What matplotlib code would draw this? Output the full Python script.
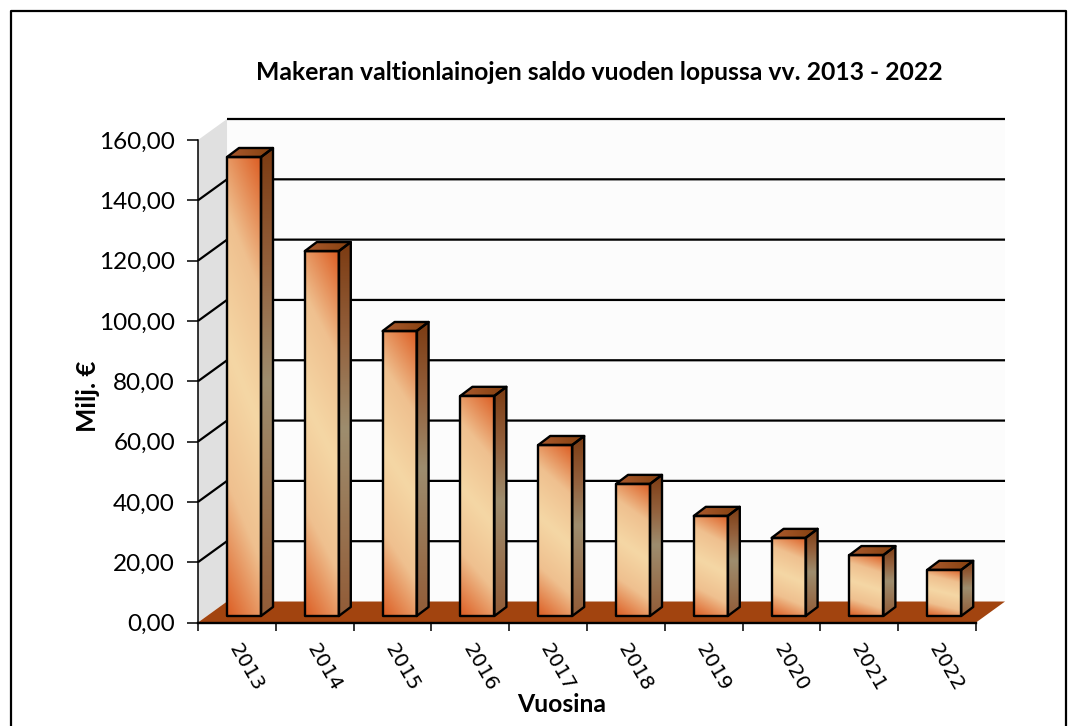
import numpy as np
import matplotlib
matplotlib.use("Agg")
import matplotlib.pyplot as plt
from matplotlib.colors import LinearSegmentedColormap
from matplotlib.lines import Line2D
from matplotlib.patches import Polygon

years = ['2013', '2014', '2015', '2016', '2017', '2018', '2019', '2020', '2021', '2022']
saldo = [152.2, 121.0, 94.5, 73.0, 56.7, 43.8, 33.2, 25.9, 20.2, 15.3]
y_ticks = [0, 20, 40, 60, 80, 100, 120, 140, 160]

plt.rcParams['font.family'] = ['Lato', 'DejaVu Sans']

front_cmap = LinearSegmentedColormap.from_list('front', ['#f5d7a5', '#efc08f', '#dc5e24'])
side_cmap = LinearSegmentedColormap.from_list('side', ['#9e8d6e', '#93603c', '#7c3b12'])
top_cmap = LinearSegmentedColormap.from_list('top', ['#aa5a2e', '#84400f'])

# depth of the 3d box in axis units
depth_x = 0.373
depth_y = 6.96
bar_dx = 0.154
bar_dy = 3.0
bar_w = 0.437
bar_start = 0.373
bar_base = 2.15

fig = plt.figure(figsize=(10.77, 7.26), dpi=100)
ax = fig.add_axes([198 / 1077, (726 - 622.5) / 726, 778 / 1077, 482.5 / 726])


def shade(pts, values, cmap, zorder):
    xs = [p[0] for p in pts]
    ys = [p[1] for p in pts]
    im = ax.imshow(values, cmap=cmap, vmin=0, vmax=1, origin='lower', aspect='auto', zorder=zorder,
                   extent=[min(xs), max(xs), min(ys), max(ys)], interpolation='bilinear')
    poly = Polygon(pts, closed=True, facecolor='none', edgecolor='black', lw=1.7, zorder=zorder + 0.1,
                   clip_on=False, joinstyle='round')
    ax.add_patch(poly)
    im.set_clip_path(poly)
    im.set_clip_on(True)


# walls and floor
ax.add_patch(Polygon([(depth_x, depth_y), (10 + depth_x, depth_y), (10 + depth_x, 160 + depth_y), (depth_x, 160 + depth_y)],
                     facecolor='#fcfcfc', edgecolor='none', clip_on=False, zorder=1))
ax.add_patch(Polygon([(0, 0), (depth_x, depth_y), (depth_x, 160 + depth_y), (0, 160)],
                     facecolor='#e0e0e0', edgecolor='none', clip_on=False, zorder=1))
for t in y_ticks[1:-1]:
    ax.plot([0, depth_x, 10 + depth_x], [t, t + depth_y, t + depth_y], color='black', lw=1.6, clip_on=False,
            zorder=2, solid_capstyle='butt')
ax.plot([depth_x, 10 + depth_x], [160 + depth_y, 160 + depth_y], color='black', lw=1.6, clip_on=False,
        zorder=2, solid_capstyle='butt')
ax.add_patch(Polygon([(0, 0), (depth_x, depth_y), (10 + depth_x, depth_y), (10, 0)],
                     facecolor='#a2440f', edgecolor='none', clip_on=False, zorder=3))

# bars
yy, xx = np.mgrid[-1:1:200j, -1:1:60j]
for k, v in enumerate(saldo):
    x0 = k + bar_start
    x1 = x0 + bar_w
    y0 = bar_base
    y1 = y0 + v
    front = np.clip(np.abs(yy * 0.85 + xx * 0.15), 0, 1)
    shade([(x0, y0), (x1, y0), (x1, y1), (x0, y1)], front, front_cmap, 5)
    side = np.where(yy > 0, yy, -yy * 0.55)
    shade([(x1, y0), (x1 + bar_dx, y0 + bar_dy), (x1 + bar_dx, y1 + bar_dy), (x1, y1)], side, side_cmap, 5)
    top = np.tile(np.linspace(0, 1, 60), (200, 1))
    shade([(x0, y1), (x1, y1), (x1 + bar_dx, y1 + bar_dy), (x0 + bar_dx, y1 + bar_dy)], top, top_cmap, 5)

ax.set_xlim(0, 10)
ax.set_ylim(0, 160)

for s in ['top', 'right']:
    ax.spines[s].set_visible(False)
ax.spines['left'].set_linewidth(1.1)
ax.spines['bottom'].set_linewidth(1.7)
ax.spines['left'].set_zorder(4)
ax.spines['bottom'].set_zorder(4)

ax.set_yticks(y_ticks)
ax.set_yticklabels(['%d,00' % t for t in y_ticks], fontsize=17.5)
ax.tick_params(axis='y', length=8, width=1.1, pad=8.5)
ax.set_xticks(range(11))
ax.set_xticklabels([])
ax.tick_params(axis='x', which='major', length=6, width=1.1)
ax.set_xticks(np.arange(10) + 0.62, minor=True)
ax.set_xticklabels(years, minor=True, rotation=-60, ha='center', va='top', fontsize=14.5)
ax.tick_params(axis='x', which='minor', length=0, pad=13)
for label in ax.get_xticklabels(minor=True):
    label.set_fontfamily('DejaVu Sans')

fig.text(599 / 1077, 1 - 72 / 726, 'Makeran valtionlainojen saldo vuoden lopussa vv. 2013 - 2022',
         ha='center', va='center', fontsize=17.8, fontweight='bold')
fig.text(88 / 1077, 1 - 396 / 726, 'Milj. €', rotation=90, ha='center', va='center', fontsize=18.5, fontweight='bold')
fig.text(562 / 1077, 1 - 705 / 726, 'Vuosina', ha='center', va='center', fontsize=17.8, fontweight='bold')

# chart border, runs off the bottom of the picture
fig.add_artist(Line2D([11 / 1077, 11 / 1077, 1066 / 1077, 1066 / 1077], [0, 1 - 11 / 726, 1 - 11 / 726, 0],
                      color='black', lw=1.6))

fig.savefig('out.png', dpi=100)
